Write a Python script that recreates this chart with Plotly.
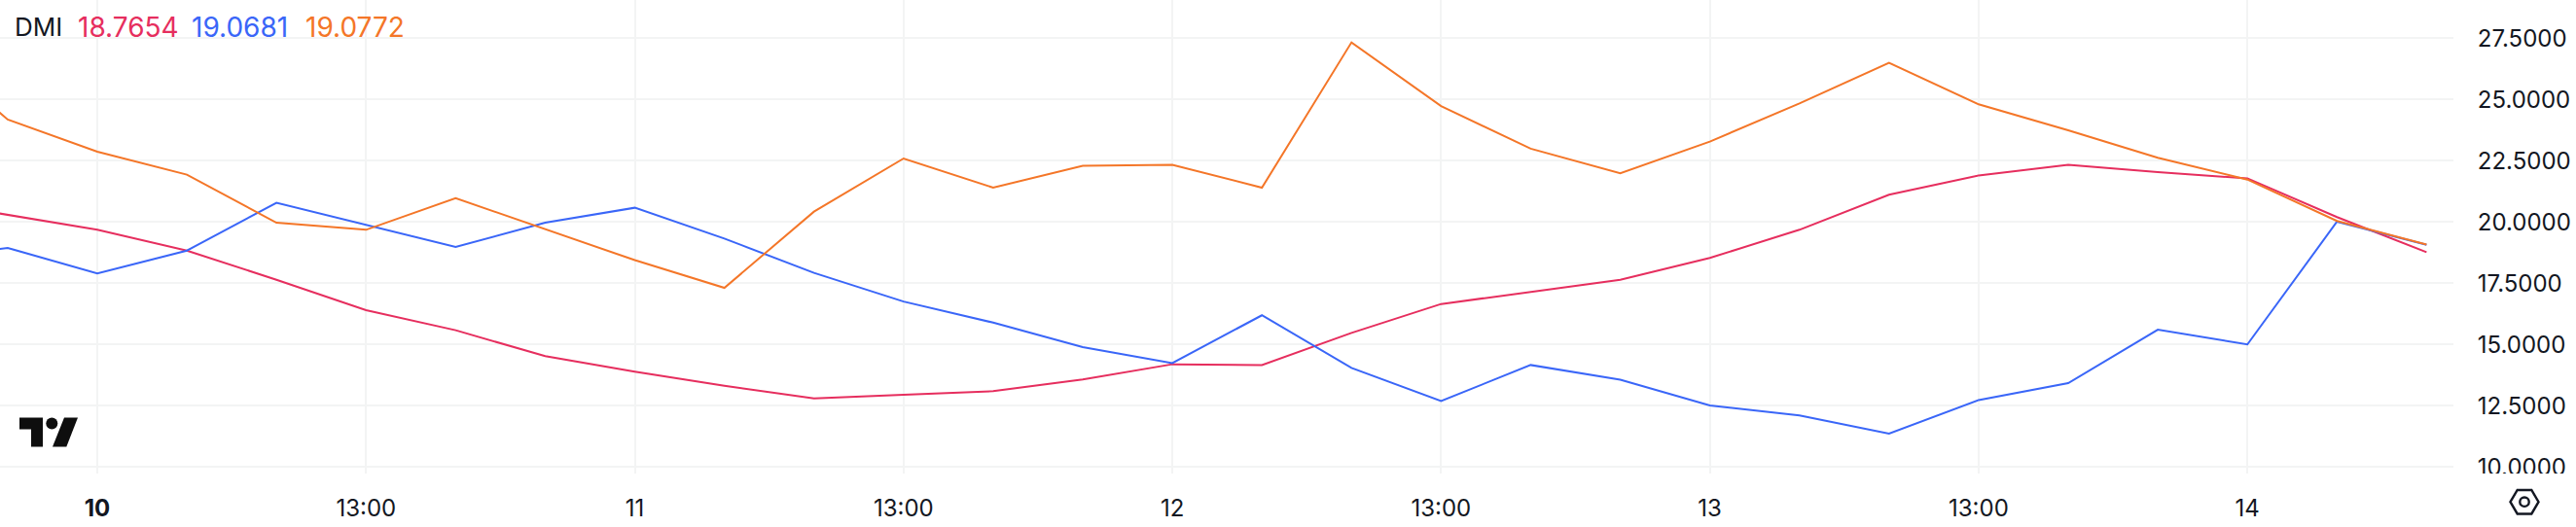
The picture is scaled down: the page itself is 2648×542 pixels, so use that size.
import plotly.graph_objects as go

bars = list(range(-1, 28))
adx_red = [20.9, 20.28, 19.68, 18.83, 17.64, 16.40, 15.58, 14.52, 13.89, 13.31, 12.80, 12.95, 13.09, 13.57, 14.19,
           14.16, 15.47, 16.65, 17.15, 17.64, 18.53, 19.68, 21.11, 21.90, 22.33, 22.03, 21.78, 20.20, 18.7654]
plus_blue = [18.47, 18.94, 17.90, 18.83, 20.78, 19.87, 18.98, 19.97, 20.58, 19.32, 17.92, 16.75, 15.89, 14.89, 14.24,
             16.19, 14.04, 12.69, 14.16, 13.56, 12.51, 12.10, 11.36, 12.73, 13.42, 15.60, 15.00, 20.01, 19.0681]
minus_orange = [27.3, 24.18, 22.87, 21.93, 19.97, 19.68, 20.97, 19.70, 18.44, 17.31, 20.42, 22.59, 21.40, 22.29, 22.33,
                21.40, 27.33, 24.73, 22.99, 21.99, 23.28, 24.84, 26.50, 24.80, 23.74, 22.62, 21.73, 20.04, 19.0772]
tick_bars = [1, 4, 7, 10, 13, 16, 19, 22, 25]
tick_labels = ["<b>10</b>", "13:00", "11", "13:00", "12", "13:00", "13", "13:00", "14"]
y_ticks = [10, 12.5, 15, 17.5, 20, 22.5, 25, 27.5]
legend_name = "DMI"
legend_values = ["18.7654", "19.0681", "19.0772"]

RED, BLUE, ORANGE = "#E62E5E", "#3A66F8", "#F47628"
INK = "#131722"
GRID = "#F3F4F4"
PW, PH = 2522, 487.5
FONT = "Inter, sans-serif"


def px(x):
    return x / PW


def py(y):
    return 1 - y / PH


def path(points, close=True):
    s = "M " + " L ".join(f"{px(a):.6f},{py(b):.6f}" for a, b in points)
    return s + (" Z" if close else "")


fig = go.Figure()
for name, vals, col in [("ADX", adx_red, RED), ("+DI", plus_blue, BLUE), ("-DI", minus_orange, ORANGE)]:
    fig.add_trace(go.Scatter(x=bars, y=vals, mode="lines", name=name, line=dict(color=col, width=2), showlegend=False))

ann = [dict(text=legend_name, xref="paper", yref="paper", x=px(14), y=py(28), xanchor="left", yanchor="middle",
            showarrow=False, borderpad=0, font=dict(family=FONT, size=26, color=INK))]
for text, x, col in [(legend_values[0], 78.5, RED), (legend_values[1], 195.5, BLUE), (legend_values[2], 313, ORANGE)]:
    ann.append(dict(text=text, xref="paper", yref="paper", x=px(x), y=py(28), xanchor="left", yanchor="middle",
                    showarrow=False, borderpad=0, font=dict(family=FONT, size=28, color=col)))

paper = dict(xref="paper", yref="paper", layer="above")
shapes = [
    dict(type="rect", x0=px(2523), x1=px(2648), y0=py(487.5), y1=py(542), fillcolor="white", line=dict(width=0), **paper),
    dict(type="path", path=path([(20, 430), (44, 430), (44, 460), (32, 460), (32, 442), (20, 442)]),
         fillcolor="#0E0E0E", line=dict(width=0), **paper),
    dict(type="circle", x0=px(47.3), x1=px(59.3), y0=py(430), y1=py(442), fillcolor="#0E0E0E", line=dict(width=0), **paper),
    dict(type="path", path=path([(66, 430), (80, 430), (68.3, 460), (54, 460)]),
         fillcolor="#0E0E0E", line=dict(width=0), **paper),
    dict(type="path", path=path([(2580.5, 516.7), (2587.7, 504.5), (2602.3, 504.5), (2609.5, 516.7), (2602.3, 529), (2587.7, 529)]),
         fillcolor="white", line=dict(color=INK, width=2.4), **paper),
    dict(type="circle", x0=px(2590.3), x1=px(2599.7), y0=py(512), y1=py(521.4), fillcolor="white",
         line=dict(color=INK, width=2.4), **paper),
]

fig.update_layout(
    width=2648, height=542, autosize=False,
    margin=dict(l=0, r=126, t=0, b=54.5, autoexpand=False),
    paper_bgcolor="white", plot_bgcolor="white",
    font=dict(family=FONT, color=INK, size=24),
    annotations=ann, shapes=shapes, hovermode=False,
    xaxis=dict(range=[-0.086, 27.30], tickmode="array", tickvals=tick_bars, ticktext=tick_labels,
               showgrid=True, gridcolor=GRID, gridwidth=2, zeroline=False, showline=False,
               ticks="outside", ticklen=14, tickcolor="rgba(0,0,0,0)", tickwidth=1,
               tickfont=dict(family=FONT, size=24, color=INK)),
    yaxis=dict(range=[9.73, 29.06], side="right", tickmode="array", tickvals=y_ticks,
               tickformat=".4f", showgrid=True, gridcolor=GRID, gridwidth=2, zeroline=False, showline=False,
               ticks="outside", ticklen=19, tickcolor="rgba(0,0,0,0)", tickwidth=1,
               tickfont=dict(family=FONT, size=24, color=INK)),
)
fig.write_html("out.html", config=dict(displayModeBar=False),
               post_script="document.body.style.margin='0';document.documentElement.style.overflow='hidden';")
